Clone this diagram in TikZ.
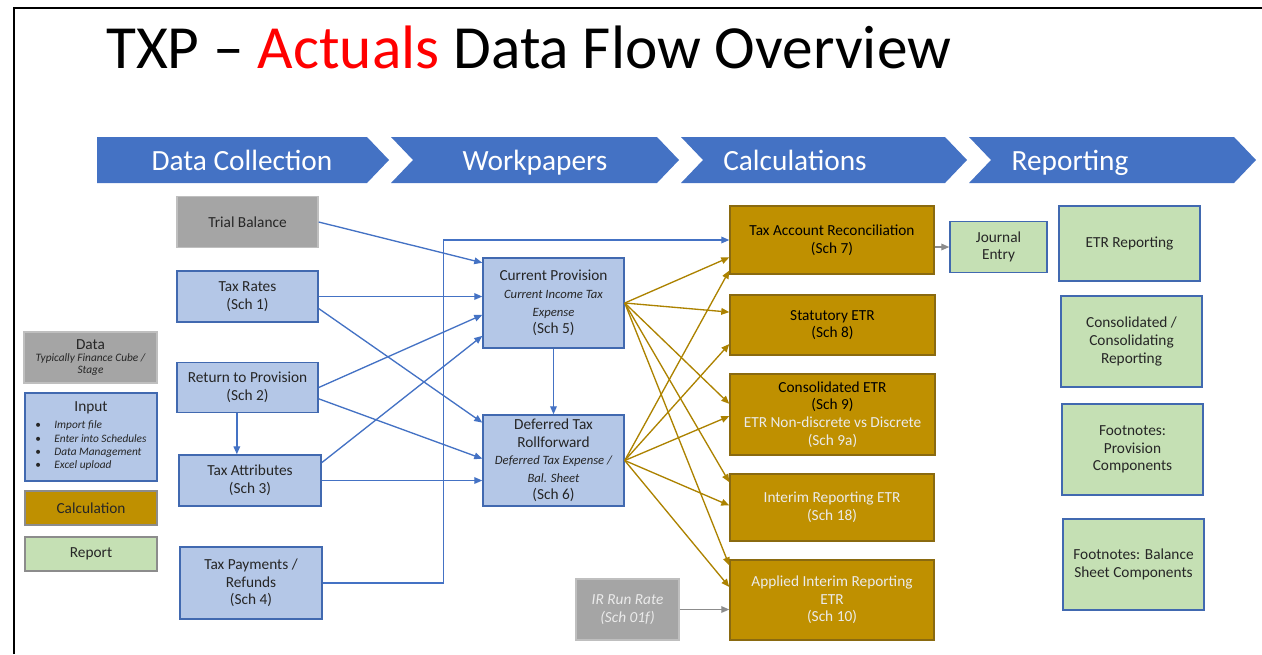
\documentclass[tikz,border=0pt]{standalone}
\usepackage{fontspec}
\setmainfont{Carlito}
\usetikzlibrary{arrows.meta,calc}
\definecolor{ChevBlue}{HTML}{4472C4}
\definecolor{InBlue}{HTML}{B4C7E7}
\definecolor{InEdge}{HTML}{4169B0}
\definecolor{DataGray}{HTML}{A5A5A5}
\definecolor{DataEdge}{HTML}{BFBFBF}
\definecolor{CalcGold}{HTML}{BF9000}
\definecolor{CalcEdge}{HTML}{8A6A10}
\definecolor{RepGreen}{HTML}{C5E0B4}
\definecolor{TxtDark}{HTML}{262626}
\newcommand{\subtxt}[1]{{\fontsize{9.5}{11}\selectfont\itshape #1}}

\begin{document}
\begin{tikzpicture}[x=0.75pt,y=-0.75pt,
    sz/.style 2 args={minimum width=#1*0.75pt, minimum height=#2*0.75pt},
    basebox/.style={inner sep=1pt, align=center, line width=1.1pt,
                    font=\fontsize{11.5}{13.2}\selectfont},
    input/.style={basebox, draw=InEdge, fill=InBlue, text=TxtDark},
    data/.style={basebox, draw=DataEdge, fill=DataGray, text=TxtDark},
    calc/.style={basebox, draw=CalcEdge, fill=CalcGold, text=black},
    calclight/.style={calc, text=white!92!black},
    report/.style={basebox, draw=InEdge, fill=RepGreen, text=TxtDark},
    chev/.style={fill=ChevBlue},
    chevtext/.style={text=white, anchor=base, inner sep=0, font=\fontsize{22}{26}\selectfont},
    inarrow/.style={-{Triangle[length=6pt,width=5pt]}, ChevBlue, line width=1pt},
    calcarrow/.style={-{Triangle[length=6pt,width=5pt]}, CalcGold!90!black, line width=1pt},
    grayarrow/.style={-{Triangle[length=6pt,width=5pt]}, black!45, line width=1pt},
  ]
    \useasboundingbox (0,0) rectangle (1262,654);
    % frame and title
    \draw[line width=1.5pt] (14,654) -- (14,8) -- (1262,8);
    \node[anchor=base west, inner sep=0, font=\fontsize{46}{50}\selectfont] (title) at (106,68)
      {TXP – \textcolor{red}{Actuals} Data Flow Overview};

    % phase chevrons
    \fill[chev] (97,137) -- (367,137) -- (389,160) -- (367,183) -- (97,183) -- cycle;
    \fill[chev] (391,137) -- (657,137) -- (679,160) -- (657,183) -- (391,183) -- (413,160) -- cycle;
    \fill[chev] (681,137) -- (945,137) -- (967,160) -- (945,183) -- (681,183) -- (703,160) -- cycle;
    \fill[chev] (969,137) -- (1234,137) -- (1256,160) -- (1234,183) -- (969,183) -- (991,160) -- cycle;
    \node[chevtext] (ph1) at (242,170) {Data Collection};
    \node[chevtext] (ph2) at (535,170) {Workpapers};
    \node[chevtext] (ph3) at (795,170) {Calculations};
    \node[chevtext] (ph4) at (1070,170) {Reporting};

    % legend
    \node[data, sz={133}{51}] (ldata) at (90.5,357.5)
      {Data\\[-4pt]{\fontsize{8.5}{10}\selectfont\itshape Typically Finance Cube /}\\[-4pt]{\fontsize{8.5}{10}\selectfont\itshape Stage}};
    \node[input, sz={132}{88}] (linput) at (91,437)
      {Input\\{\fontsize{8.5}{10}\selectfont\itshape
       \begin{tabular}[t]{@{}l@{\hspace{10pt}}l@{}}
         \textup{•} & Import file\\
         \textup{•} & Enter into Schedules\\
         \textup{•} & Data Management\\
         \textup{•} & Excel upload
       \end{tabular}}};
    \node[calc, sz={132}{34}, draw=black!45, text=TxtDark] (lcalc) at (91,508) {Calculation};
    \node[report, sz={132}{34}, draw=black!45] (lrep) at (91,554) {Report};

    % data collection
    \node[data, sz={141}{51}] (tb) at (247.5,222) {Trial Balance};
    \node[input, sz={141}{51}] (tr) at (247.5,296.5) {Tax Rates\\(Sch 1)};
    \node[input, sz={141}{50}] (rp) at (247.5,387.5) {Return to Provision\\(Sch 2)};
    \node[input, sz={142}{51}] (ta) at (250,480.5) {Tax Attributes\\(Sch 3)};
    \node[input, sz={142}{72}] (tp) at (251,583) {Tax Payments /\\Refunds\\(Sch 4)};

    % workpapers
    \node[input, sz={141}{90}] (cp) at (553.5,303)
      {Current Provision\\\subtxt{Current Income Tax}\\\subtxt{Expense}\\(Sch 5)};
    \node[input, sz={141}{91}] (dt) at (553.5,460.5)
      {Deferred Tax\\Rollforward\\\subtxt{Deferred Tax Expense /}\\\subtxt{Bal. Sheet}\\(Sch 6)};

    % calculations
    \node[calc, sz={204}{68}] (tar) at (832,240) {Tax Account Reconciliation\\(Sch 7)};
    \node[calc, sz={205}{60}] (se) at (832.5,325) {Statutory ETR\\(Sch 8)};
    \node[calc, sz={205}{81}] (ce) at (832.5,414.5)
      {Consolidated ETR\\(Sch 9)\\\textcolor{white!92!black}{ETR Non-discrete vs Discrete}\\\textcolor{white!92!black}{(Sch 9a)}};
    \node[calclight, sz={204}{67}] (ie) at (832,507.5) {Interim Reporting ETR\\(Sch 18)};
    \node[calclight, sz={204}{80}] (ae) at (832,600) {Applied Interim Reporting\\ETR\\(Sch 10)};
    \node[data, sz={103}{61}, text=white!92!black, font=\fontsize{11.5}{13.5}\selectfont\itshape] (ir) at (627.5,609.5) {IR Run Rate\\(Sch 01f)};

    % reporting
    \node[report, sz={97}{51}] (je) at (998.5,247) {Journal\\Entry};
    \node[report, sz={141}{75}] (er) at (1129.5,243.5) {ETR Reporting};
    \node[report, sz={141}{91}] (cr) at (1131.5,341.5) {Consolidated /\\Consolidating\\Reporting};
    \node[report, sz={141}{91}] (fp) at (1132.5,449.5) {Footnotes:\\Provision\\Components};
    \node[report, sz={141}{91}] (fb) at (1133.5,564.5) {Footnotes: Balance\\Sheet Components};

    % input flows
    \draw[inarrow] (tb.east) -- ($(cp.north west)!.06!(cp.south west)$);
    \draw[inarrow] (tr.east) -- (cp.west |- tr.east);
    \draw[inarrow] ($(tr.north east)!.73!(tr.south east)$) -- ($(dt.north west)!.09!(dt.south west)$);
    \draw[inarrow] (rp.east) -- ($(cp.north west)!.63!(cp.south west)$);
    \draw[inarrow] ($(rp.north east)!.72!(rp.south east)$) -- ($(dt.north west)!.48!(dt.south west)$);
    \draw[inarrow] ($(ta.north east)!.16!(ta.south east)$) -- ($(cp.north west)!.86!(cp.south west)$);
    \draw[inarrow] (ta.east) -- (dt.west |- ta.east);
    \draw[inarrow] ([xshift=-8pt]rp.south) -- ([xshift=-8pt]rp.south |- ta.north);
    \draw[inarrow] (cp) -- (dt);
    \draw[inarrow] (tp.east) -- ++(121,0) |- (tar.west);

    % workpapers to calculations
    \foreach \t/\f in {tar/.75, se/.29, ce/.37, ie/.13, ae/.075}
      \draw[calcarrow] (cp.east) -- ($(\t.north west)!\f!(\t.south west)$);
    \foreach \t/\f in {tar/.94, se/.81, ce/.52, ie/.47, ae/.34}
      \draw[calcarrow] (dt.east) -- ($(\t.north west)!\f!(\t.south west)$);

    \draw[grayarrow] (tar.east |- je) -- (je.west);
    \draw[grayarrow] (ir.east) -- (ae.west |- ir.east);
  \end{tikzpicture}
\end{document}
